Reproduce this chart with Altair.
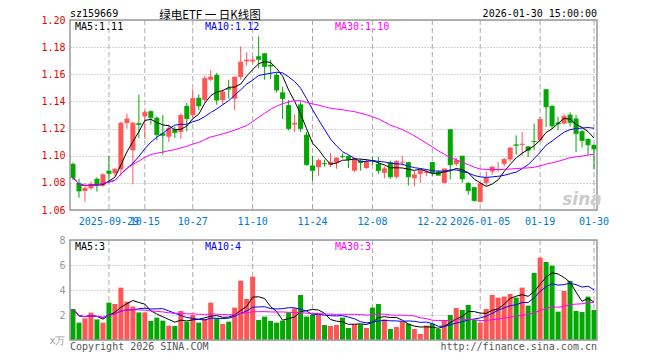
import altair as alt
import pandas as pd

dates = [
    "2025-09-19", "2025-09-22", "2025-09-23", "2025-09-24", "2025-09-25", "2025-09-26", "2025-09-29", "2025-09-30",
    "2025-10-09", "2025-10-10", "2025-10-13", "2025-10-14", "2025-10-15", "2025-10-16", "2025-10-17",
    "2025-10-20", "2025-10-21", "2025-10-22", "2025-10-23", "2025-10-24",
    "2025-10-27", "2025-10-28", "2025-10-29", "2025-10-30", "2025-10-31",
    "2025-11-03", "2025-11-04", "2025-11-05", "2025-11-06", "2025-11-07",
    "2025-11-10", "2025-11-11", "2025-11-12", "2025-11-13", "2025-11-14",
    "2025-11-17", "2025-11-18", "2025-11-19", "2025-11-20", "2025-11-21",
    "2025-11-24", "2025-11-25", "2025-11-26", "2025-11-27", "2025-11-28",
    "2025-12-01", "2025-12-02", "2025-12-03", "2025-12-04", "2025-12-05",
    "2025-12-08", "2025-12-09", "2025-12-10", "2025-12-11", "2025-12-12",
    "2025-12-15", "2025-12-16", "2025-12-17", "2025-12-18", "2025-12-19",
    "2025-12-22", "2025-12-23", "2025-12-24", "2025-12-25", "2025-12-26",
    "2025-12-29", "2025-12-30", "2025-12-31",
    "2026-01-05", "2026-01-06", "2026-01-07", "2026-01-08", "2026-01-09",
    "2026-01-12", "2026-01-13", "2026-01-14", "2026-01-15", "2026-01-16",
    "2026-01-19", "2026-01-20", "2026-01-21", "2026-01-22", "2026-01-23",
    "2026-01-26", "2026-01-27", "2026-01-28", "2026-01-29", "2026-01-30",
]

opens = [1.094, 1.080, 1.074, 1.076, 1.083, 1.078, 1.089, 1.087, 1.090, 1.124,
         1.104, 1.124, 1.129, 1.1328, 1.128, 1.1165, 1.114, 1.1195, 1.1175, 1.1367,
         1.1298, 1.1427, 1.141, 1.156, 1.1595, 1.141, 1.1497, 1.142, 1.158, 1.1695,
         1.1695, 1.1733, 1.1755, 1.167, 1.1595, 1.1467, 1.1373, 1.123, 1.1378, 1.1155,
         1.0928, 1.0916, 1.0945, 1.0933, 1.0948, 1.0998, 1.0998, 1.089, 1.0965, 1.0909,
         1.0966, 1.094, 1.0874, 1.0953, 1.0844, 1.095, 1.0953, 1.0834, 1.0866, 1.0874,
         1.0953, 1.088, 1.080, 1.1195, 1.094, 1.100, 1.080, 1.0768, 1.066, 1.080,
         1.0884, 1.0896, 1.094, 1.0973, 1.1083, 1.108, 1.1069, 1.1108, 1.1113, 1.149,
         1.1368, 1.1245, 1.1237, 1.1303, 1.1274, 1.118, 1.1125, 1.108]
highs = [1.095, 1.083, 1.080, 1.081, 1.084, 1.087, 1.100, 1.091, 1.125, 1.131,
         1.125, 1.145, 1.1335, 1.1335, 1.129, 1.130, 1.123, 1.1215, 1.131, 1.139,
         1.149, 1.1452, 1.159, 1.163, 1.161, 1.1487, 1.156, 1.158, 1.1805, 1.1763,
         1.1733, 1.188, 1.1755, 1.1705, 1.161, 1.151, 1.141, 1.1303, 1.140, 1.1175,
         1.100, 1.098, 1.097, 1.102, 1.0988, 1.1015, 1.1002, 1.0985, 1.0975, 1.0978,
         1.099, 1.099, 1.092, 1.0963, 1.0966, 1.100, 1.0955, 1.0889, 1.0895, 1.090,
         1.0955, 1.0895, 1.0905, 1.1195, 1.0985, 1.100, 1.0805, 1.077, 1.080, 1.0885,
         1.0925, 1.0953, 1.0985, 1.1065, 1.115, 1.1175, 1.107, 1.1237, 1.1285, 1.149,
         1.1368, 1.1286, 1.131, 1.132, 1.130, 1.119, 1.1125, 1.108]
lows = [1.082, 1.069, 1.066, 1.075, 1.0735, 1.077, 1.080, 1.085, 1.085, 1.120,
        1.079, 1.113, 1.1125, 1.123, 1.1114, 1.1007, 1.110, 1.113, 1.1125, 1.118,
        1.128, 1.1335, 1.139, 1.155, 1.1375, 1.1375, 1.142, 1.1336, 1.156, 1.1664,
        1.168, 1.1644, 1.156, 1.1565, 1.1465, 1.127, 1.1187, 1.1175, 1.1175, 1.0928,
        1.0817, 1.0854, 1.092, 1.0916, 1.0904, 1.098, 1.0909, 1.0878, 1.089, 1.0904,
        1.093, 1.0866, 1.0834, 1.083, 1.083, 1.0928, 1.078, 1.0775, 1.080, 1.085,
        1.085, 1.0854, 1.0795, 1.0824, 1.0925, 1.080, 1.0712, 1.0662, 1.0655, 1.078,
        1.086, 1.0879, 1.092, 1.0955, 1.1008, 1.100, 1.099, 1.104, 1.1105, 1.1212,
        1.120, 1.1187, 1.123, 1.1215, 1.1027, 1.106, 1.1007, 1.090]
closes = [1.084, 1.074, 1.076, 1.079, 1.0785, 1.086, 1.087, 1.090, 1.124, 1.127,
          1.124, 1.123, 1.132, 1.128, 1.1155, 1.115, 1.120, 1.117, 1.1298, 1.1274,
          1.1422, 1.1367, 1.157, 1.158, 1.141, 1.147, 1.149, 1.158, 1.169, 1.1705,
          1.1705, 1.171, 1.1657, 1.166, 1.1484, 1.1422, 1.120, 1.124, 1.120, 1.0933,
          1.0891, 1.0965, 1.094, 1.0953, 1.0983, 1.0993, 1.0973, 1.0978, 1.095, 1.0958,
          1.096, 1.089, 1.0904, 1.0844, 1.0958, 1.0953, 1.0844, 1.0859, 1.089, 1.0879,
          1.0874, 1.0856, 1.0903, 1.0933, 1.0965, 1.0829, 1.0743, 1.0669, 1.0793, 1.0835,
          1.0916, 1.0899, 1.0973, 1.1057, 1.1076, 1.1085, 1.104, 1.1104, 1.1267, 1.136,
          1.122, 1.1235, 1.129, 1.1244, 1.1163, 1.1113, 1.108, 1.105]
volumes = [2.48, 1.39, 1.73, 2.19, 1.65, 1.39, 2.99, 2.88, 4.19, 3.07,
           2.67, 2.21, 2.21, 1.52, 1.79, 1.55, 1.15, 1.12, 2.32, 1.47,
           2.0, 1.39, 1.68, 2.99, 1.73, 1.28, 1.47, 2.59, 4.75, 3.28,
           5.07, 1.6, 1.87, 1.52, 1.39, 1.55, 2.21, 2.53, 3.6, 1.87,
           2.0, 2.0, 1.2, 1.12, 1.2, 1.79, 0.96, 1.25, 1.25, 0.96,
           2.59, 2.88, 1.65, 0.88, 1.04, 1.47, 1.31, 0.88, 0.48, 1.15,
           1.31, 0.88, 1.6, 2.0, 2.56, 2.4, 2.8, 1.6, 1.39, 2.48,
           3.6, 3.39, 3.47, 3.68, 3.39, 4.19, 2.75, 5.36, 6.59, 6.24,
           5.95, 2.27, 3.92, 4.72, 2.32, 2.24, 3.47, 2.4]

x_label_dates = ["2025-09-29", "2025-10-15", "2025-10-27", "2025-11-10", "2025-11-24",
                 "2025-12-08", "2025-12-22", "2026-01-05", "2026-01-19", "2026-01-30"]
full_labels = ["2025-09-29", "2026-01-05"]
price_ticks = [1.06, 1.08, 1.10, 1.12, 1.14, 1.16, 1.18, 1.20]
vol_ticks = [0, 2, 4, 6, 8]

title_code = "sz159669"
title_name = "绿电ETF 一 日K线图"
title_time = "2026-01-30 15:00:00"
ma_price_texts = ["MA5:1.11", "MA10:1.12", "MA30:1.10"]
ma_vol_texts = ["MA5:3", "MA10:4", "MA30:3"]
copyright_text = "Copyright 2026 SINA.COM"
url_text = "http://finance.sina.com.cn"

# ---- layout / style ----
W, H = 527, 320
PH = 190
VT = 220
MONO = "DejaVu Sans Mono"
RED = "#ff5555"
GREEN = "#00a800"
MA_COLORS = ["#000000", "#0000ff", "#ff00ff"]
GRID = "#aaaaaa"
FRAME = "#999999"

df = pd.DataFrame({
    "d": dates, "o": opens, "h": highs, "l": lows, "c": closes, "v": volumes,
    "idx": list(range(len(dates))),
})
df["dir"] = ["up" if c >= o else "down" for o, c in zip(opens, closes)]

color = alt.Color("dir:N", scale=alt.Scale(domain=["up", "down"], range=[RED, GREEN]), legend=None)

label_expr = ("indexof(" + str(full_labels).replace('"', "'") +
              ", datum.value) >= 0 ? datum.value : slice(datum.value, 5)")

xaxis = alt.Axis(values=x_label_dates, labelExpr=label_expr, orient="bottom", offset=-(H - PH),
                 domain=False, ticks=False, tickSize=0, grid=False, labelPadding=6,
                 labelColor="#0078d7", labelFont=MONO, labelFontSize=10, labelOverlap=False,
                 labelBound=False, labelFlush=False, labelAngle=0, title=None)
xscale = alt.Scale(domain=dates, paddingInner=0, paddingOuter=0)


def X():
    return alt.X("d:O", scale=xscale, axis=xaxis, title=None)


pscale = alt.Scale(domain=[1.06, 1.20], range=[PH, 0], nice=False, zero=False)
paxis = alt.Axis(values=price_ticks, format=".2f", orient="left", domain=False, ticks=False,
                 tickSize=0, labelPadding=5, labelColor="#ee0000", labelFont=MONO,
                 labelFontSize=10, grid=True, gridColor=GRID, gridDash=[1, 2], title=None)


def PY(field):
    return alt.Y(field + ":Q", scale=pscale, axis=paxis, title=None)


vscale = alt.Scale(domain=[0, 8], range=[H, VT], nice=False, zero=True)
vaxis = alt.Axis(values=vol_ticks, orient="left", domain=False, ticks=False, tickSize=0,
                 labelPadding=5, labelColor="#999999", labelFont=MONO, labelFontSize=10,
                 labelExpr="datum.value == 0 ? 'x万' : datum.label",
                 grid=True, gridColor=GRID, gridDash=[1, 2], title=None)


def VY(field):
    return alt.Y(field + ":Q", scale=vscale, axis=vaxis, title=None)


base = alt.Chart(df)

# price panel
wicks = base.mark_rule(strokeWidth=1).encode(x=X(), y=PY("l"), y2="h", color=color)
bodies = base.mark_bar(size=5).encode(x=X(), y=PY("o"), y2="c", color=color)
body_ticks = base.mark_tick(size=5, thickness=1).encode(x=X(), y=PY("c"), color=color)
ma_layers = []
for n, col in zip([5, 10, 30], MA_COLORS):
    ma_layers.append(
        base.transform_window(ma="mean(c)", frame=[-(n - 1), 0], sort=[{"field": "idx"}])
        .mark_line(color=col, strokeWidth=1)
        .encode(x=X(), y=PY("ma"))
    )
price_group = alt.layer(wicks, bodies, body_ticks, *ma_layers)

# volume panel
vbars = base.mark_bar(size=5).encode(x=X(), y=VY("v"), color=color)
vma_layers = []
for n, col in zip([5, 10, 30], MA_COLORS):
    vma_layers.append(
        base.transform_window(vma="mean(v)", frame=[-(n - 1), 0], sort=[{"field": "idx"}])
        .mark_line(color=col, strokeWidth=1)
        .encode(x=X(), y=VY("vma"))
    )
vol_group = alt.layer(vbars, *vma_layers)

# decorations
gdf = pd.DataFrame({"d": x_label_dates})
vgrid_p = alt.Chart(gdf).mark_rule(color=GRID, strokeDash=[5, 3], strokeWidth=1).encode(
    x=X(), y=alt.value(0), y2=alt.value(PH))
vgrid_v = alt.Chart(gdf).mark_rule(color=GRID, strokeDash=[5, 3], strokeWidth=1).encode(
    x=X(), y=alt.value(VT), y2=alt.value(H))

one = alt.Data(values=[{"k": 0}])
frame_p = alt.Chart(one).mark_rect(fill="transparent", stroke=FRAME, strokeWidth=1.5).encode(
    x=alt.value(0), x2=alt.value(W), y=alt.value(0), y2=alt.value(PH))
frame_v = alt.Chart(one).mark_rect(fill="transparent", stroke=FRAME, strokeWidth=1.5).encode(
    x=alt.value(0), x2=alt.value(W), y=alt.value(VT), y2=alt.value(H))


def label(text, x, y, color="#000000", align="left", size=10, font=MONO, **kw):
    return alt.Chart(one).mark_text(align=align, baseline="middle", font=font, fontSize=size,
                                    color=color, **kw).encode(
        x=alt.value(x), y=alt.value(y), text=alt.value(text))


texts = [
    label(title_code, 0, -6),
    label(title_name, 140, -4.5, align="center", size=11.5, font="Noto Sans CJK SC"),
    label(title_time, W, -6, align="right"),
    label(ma_price_texts[0], 5, 6.5, MA_COLORS[0]),
    label(ma_price_texts[1], 135, 6.5, MA_COLORS[1]),
    label(ma_price_texts[2], 265, 6.5, MA_COLORS[2]),
    label(ma_vol_texts[0], 5, VT + 6.5, MA_COLORS[0]),
    label(ma_vol_texts[1], 135, VT + 6.5, MA_COLORS[1]),
    label(ma_vol_texts[2], 265, VT + 6.5, MA_COLORS[2]),
    label(copyright_text, 0, H + 6.5, "#555555"),
    label(url_text, W, H + 6.5, "#555555", align="right"),
    label("sina", 512, 180, "#cccccc", align="center", size=17, font="DejaVu Sans",
          fontStyle="italic", fontWeight="bold"),
]

chart = alt.layer(
    vgrid_p, vgrid_v, price_group, vol_group, frame_p, frame_v, *texts
).resolve_scale(y="independent").properties(
    width=W, height=H,
    autosize=alt.AutoSizeParams(type="none"),
    padding={"left": 62, "top": 12, "right": 50, "bottom": 16},
    background="white",
).configure_view(stroke=None)

chart.save("out.html", embed_options={"renderer": "svg", "actions": False})
